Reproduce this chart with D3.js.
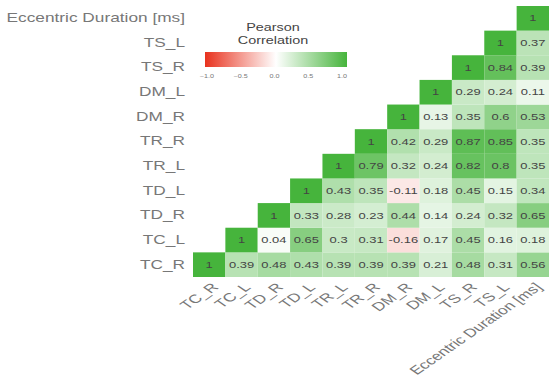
<!DOCTYPE html>
<html>
<head>
<meta charset="utf-8">
<script src="https://cdn.jsdelivr.net/npm/d3@7"></script>
<style>
  html, body { margin: 0; padding: 0; background: #fff; }
  svg { display: block; }
  text { font-family: "Liberation Sans", Arial, sans-serif; }
</style>
</head>
<body>
<svg id="chart" width="550" height="387"></svg>
<script>
// Variables, in axis order (x left→right, y bottom→top)
const variables = ["TC_R", "TC_L", "TD_R", "TD_L", "TR_L", "TR_R", "DM_R", "DM_L", "TS_R", "TS_L", "Eccentric Duration [ms]"];

// Pearson coefficients per row, starting at the diagonal and running right
const rowTC_R = [1, 0.39, 0.48, 0.43, 0.39, 0.39, 0.39, 0.21, 0.48, 0.31, 0.56];
const rowTC_L = [1, 0.04, 0.65, 0.3, 0.31, -0.16, 0.17, 0.45, 0.16, 0.18];
const rowTD_R = [1, 0.33, 0.28, 0.23, 0.44, 0.14, 0.24, 0.32, 0.65];
const rowTD_L = [1, 0.43, 0.35, -0.11, 0.18, 0.45, 0.15, 0.34];
const rowTR_L = [1, 0.79, 0.32, 0.24, 0.82, 0.8, 0.35];
const rowTR_R = [1, 0.42, 0.29, 0.87, 0.85, 0.35];
const rowDM_R = [1, 0.13, 0.35, 0.6, 0.53];
const rowDM_L = [1, 0.29, 0.24, 0.11];
const rowTS_R = [1, 0.84, 0.39];
const rowTS_L = [1, 0.37];
const rowEcc  = [1];
const rows = [rowTC_R, rowTC_L, rowTD_R, rowTD_L, rowTR_L, rowTR_R, rowDM_R, rowDM_L, rowTS_R, rowTS_L, rowEcc];

const legendTicks = [-1, -0.5, 0, 0.5, 1];
const legendTitle = ["Pearson", "Correlation"];

// flatten to cells
const cells = [];
rows.forEach((vals, i) => {
  vals.forEach((v, k) => {
    cells.push({ x: variables[i + k], y: variables[i], value: v });
  });
});

// the whole plot is drawn with a horizontal stretch
const sx = 1.44;
const svg = d3.select("#chart");
const g = svg.append("g").attr("transform", `scale(${sx},1)`);

const x = d3.scaleBand().domain(variables).range([193 / sx, 549 / sx]);
const y = d3.scaleBand().domain(variables.slice().reverse()).range([6, 277]);

const color = d3.scaleLinear()
  .domain([-1, 0, 1])
  .range(["#e8321e", "#ffffff", "#46b43c"])
  .interpolate(d3.interpolateRgb);

// tiles
g.append("g").selectAll("rect")
  .data(cells)
  .join("rect")
  .attr("x", d => x(d.x))
  .attr("y", d => y(d.y))
  .attr("width", x.bandwidth())
  .attr("height", y.bandwidth())
  .attr("fill", d => color(d.value));

// coefficient labels
g.append("g").selectAll("text")
  .data(cells)
  .join("text")
  .attr("x", d => x(d.x) + x.bandwidth() / 2)
  .attr("y", d => y(d.y) + y.bandwidth() / 2)
  .attr("dy", "0.35em")
  .attr("text-anchor", "middle")
  .attr("font-size", 9)
  .attr("fill", "#444")
  .text(d => String(d.value));

// y axis labels
const yAxis = d3.axisLeft(y).tickSize(0).tickPadding(0);
const yg = g.append("g").attr("transform", `translate(${185 / sx},0)`).call(yAxis);
yg.select(".domain").remove();
yg.selectAll("text").attr("font-size", 12).attr("fill", "#777")
  .style("font-family", "'Liberation Sans', Arial, sans-serif");

// x axis labels, rotated
const xg = g.append("g");
xg.selectAll("text")
  .data(variables)
  .join("text")
  .attr("transform", d => `translate(${x(d) + x.bandwidth() / 2 + 4},${285}) rotate(-45)`)
  .attr("text-anchor", "end")
  .attr("dy", "0.35em")
  .attr("font-size", 12)
  .attr("fill", "#777")
  .text(d => d);

// legend
const lx = d3.scaleLinear().domain([-1, 1]).range([207 / sx, 342 / sx]);
const defs = svg.append("defs");
const grad = defs.append("linearGradient").attr("id", "corrGrad");
d3.range(0, 1.0001, 0.1).forEach(t => {
  grad.append("stop").attr("offset", `${t * 100}%`).attr("stop-color", color(-1 + 2 * t));
});
g.append("rect")
  .attr("x", 205 / sx).attr("y", 52)
  .attr("width", (347 - 205) / sx).attr("height", 15)
  .attr("fill", "url(#corrGrad)");

g.append("g").selectAll("text")
  .data(legendTicks)
  .join("text")
  .attr("x", d => lx(d))
  .attr("y", 76)
  .attr("dy", "0.35em")
  .attr("text-anchor", "middle")
  .attr("font-size", 5)
  .attr("fill", "#777")
  .text(d => d3.format(".1f")(d));

g.append("g").selectAll("text")
  .data(legendTitle)
  .join("text")
  .attr("x", 273 / sx)
  .attr("y", (d, i) => 28 + i * 13)
  .attr("dy", "0.35em")
  .attr("text-anchor", "middle")
  .attr("font-size", 10)
  .attr("fill", "#444")
  .text(d => d);
</script>
</body>
</html>
